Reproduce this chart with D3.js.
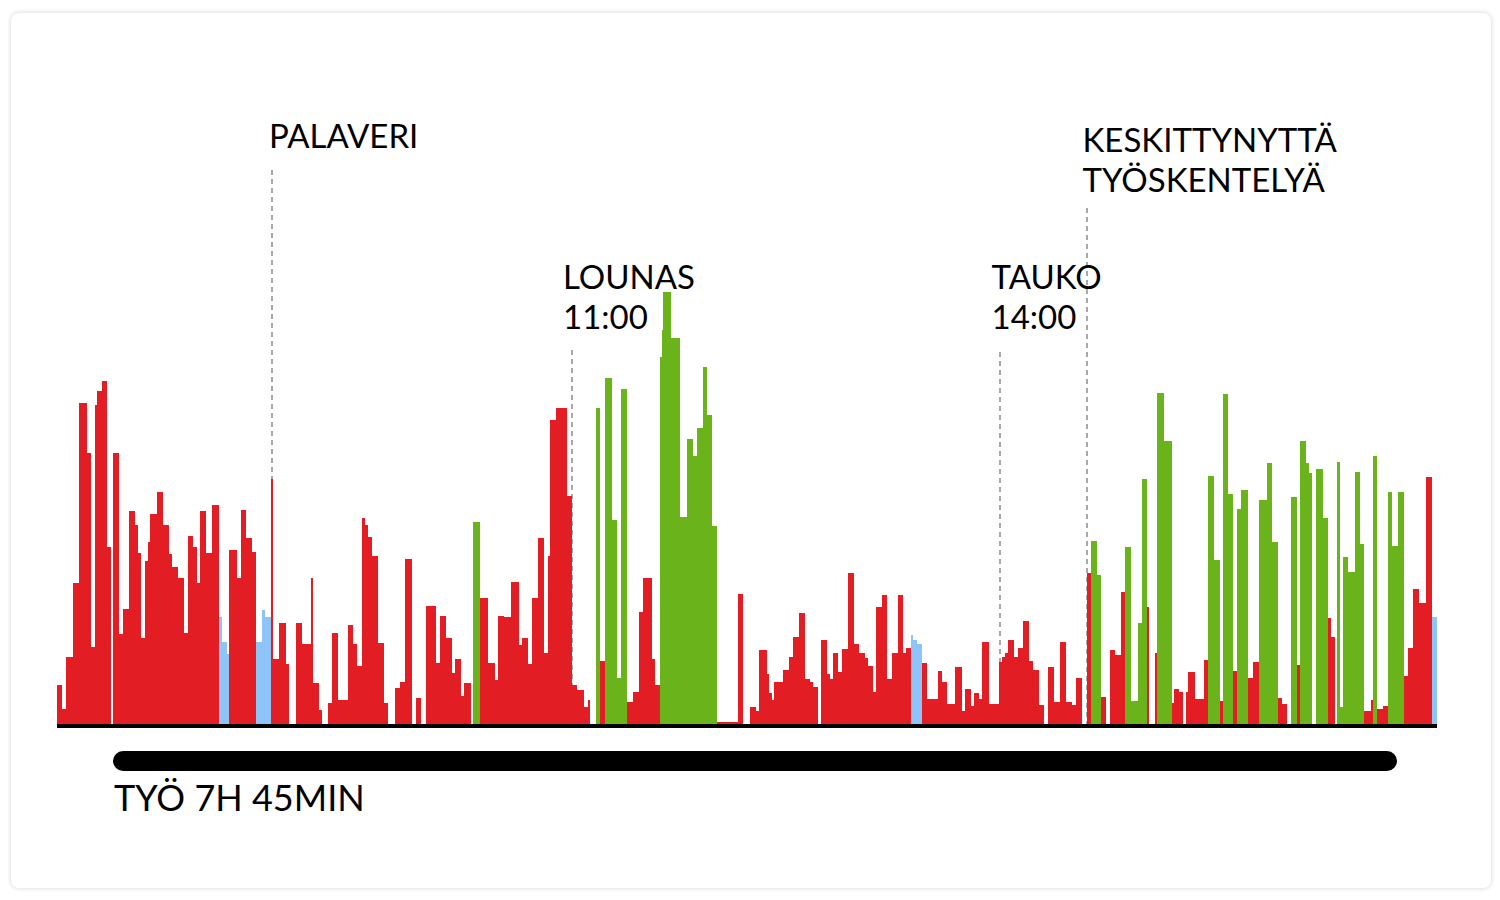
<!DOCTYPE html>
<html>
<head>
<meta charset="utf-8">
<script src="https://cdn.jsdelivr.net/npm/d3@7/dist/d3.min.js"></script>
<style>
  html, body { margin: 0; padding: 0; background: #ffffff; }
  body { width: 1500px; height: 900px; position: relative; overflow: hidden; }
  #card { position: absolute; left: 11px; top: 13px; width: 1480px; height: 875px;
          background: #fff; border-radius: 8px; box-shadow: 0 0 5px rgba(0,0,0,0.18); }
  svg { position: absolute; left: 0; top: 0; }
  text { font-family: Lato, "Open Sans", sans-serif; fill: #000; }
</style>
</head>
<body>
<div id="card"></div>
<svg id="chart" width="1500" height="900"></svg>
<script>
// ---- data: activity segments (start in sampling steps, level, kind) ----
const segStarts = [
  0,2.4,4.4,8.2,11.2,14.9,16.9,18.9,19.9,22.5,24.9,27,28.2,31.2,33.2,36,39,40.4,41.9,44,45.4,46.5,49.9,53.2,56,57.7,60.7,63.7,65.4,67.9,69.9,71.5,74.5,77.4,81,82.4,84.9,
  86.2,89.9,91.9,94.5,97.4,99.4,102.7,104,106.9,108.2,111.2,114.5,116,119.4,122.4,127,128.2,131.2,132.7,135.4,137.7,140.7,145.4,148.2,150.2,152.4,154,155.4,157.4,160.7,163.7,165.4,169,171.5,
  174,177.4,179.4,182,184.4,189.5,191.5,194.4,197.4,199,202,203.7,206.9,207.9,211.5,215.7,219,220.4,223.5,226.9,231,232.4,235.7,237.7,240.7,243.5,245.4,246.5,249.4,254.9,257.4,259.9,
  263.7,265.4,266.5,269.4,271.5,274,277.4,280.2,281.9,284.9,288.2,291.2,292.9,297.4,299,301.5,302.7,303.2,306.9,311.5,314.9,318.2,319.9,323.2,324.9,327.7,329.9,340.4,343.2,346.5,
  349.5,351,354.9,356.2,357.4,358.7,363.2,366.2,368.2,371.2,374,376.5,378.2,380.7,381.9,384.9,386.5,387.9,390.7,392.4,395.7,398.7,401.2,404,405.7,407.9,409.5,412.4,415.2,417.4,420.4,423.2,424.4,427,428.2,429.9,432.4,435.2,
  440.4,442.7,444.9,449,452.4,454,457,458.7,461.2,462.4,466.2,471,472.4,474,475.7,478.7,480.4,483.2,486.2,488.2,491,493.7,495.7,498.5,501.5,504.5,507.4,509.5,512.4,
  515.2,517,519.9,521.9,524.5,526.5,529,531.9,534,536.9,540.7,542.7,544.9,546,549,550.2,553.7,557.7,558.7,561,562.9,564.5,565.7,569,573.5,575.4,578.5,581.5,582.9,585.7,587.9,589.9,591.9,595.7,598.2,
  601.2,604.9,607.7,610.7,612.4,614.9,616.9,620.2,621.5,624.4,626.2,627.7,629.4,632.9,635.4,637,639,639.9,641.5,642.9,645.7,649,651.5,653.5,656.9,658.2,660.2,662.9,665.4,667.7,670.7,673.7,675.4,678.2,681.2,684.4,687.7
];
const segLevels = [
  19.5,7.5,33.5,70.5,160.5,135.5,38.5,159.5,166.5,171.5,88.5,0,135.5,45,57.5,106.5,99.5,85.5,43,81.5,91,105,116,99.5,85,78.5,73,45.5,94,88.5,70.5,106.5,85.5,109.5,53.5,41,35,
  87,73,107,93,86,41,57,53.5,122.5,32.5,50.5,30,0,50.5,40,73,20.5,7,0,10.5,45.5,12,49.5,40,29,103,99.5,93.5,84,40.5,10.5,0,18,21,
  82.5,0,13,0,59,30.5,54,43,25.5,32.5,14,20.5,0,101,63,30.5,22,54,53.5,71,39.5,43,30,63,93,35.5,84,152,158,114,19.5,17,
  8.5,12,0,158,31.5,173,102,23,167.5,11,16,56,73,32.5,19.5,183.5,197,216,193,103.5,142.5,134,148,178.5,154.5,99,1,65,0,8.5,
  6.5,37,25,15.5,12,21,27,33.5,43.5,55.5,22.5,21,18.5,0,42,25,22.5,35.5,26,37.5,75.5,40,35.5,33,29,16,58.5,64.5,22.5,35.5,64.5,35.5,38,44.5,42,40,30.5,12.5,
  26.5,21,10,28.5,6.5,17.5,9,15.5,12.5,41,10,31,33.5,35.5,42,33.5,38,51.5,31.5,27,9.5,0,28.5,11,41,11,9.5,23,0,
  75.5,91.5,74.5,13.5,0,37,34.5,66,88.5,11.5,50.5,122.5,58.5,0,35.5,165.5,141.5,10.5,17.5,16,0,16,26,12.5,32,124,82,11.5,165,115,26.5,107.5,117,23,31,
  112,130.5,91,13,10,0,113.5,29.5,141.5,130.5,125.5,0,127.5,103,53,43.5,0,131,8.5,83.5,76,126,90,6.5,12,134,7.5,9,116,89,116,24,38,67.5,60.5,123.5,53.5
];
// r = work, g = focused work, b = pause
const segKinds = (
  "rrrrrrrrrrrrrrrrrrrrrrrrrrrrrrrrrr" + "bbb" +
  "rrrrr" + "bbb" + "rrrrrrrrrrrrrrrrrrrrrrrrrr" +
  "rrrrrrrrrrrrr" + "g" + "rrrrrrrrrrrrrrrrrr" +
  "rrrgrggggr" + "rrrrrggggg" + "ggggggrrrr" +
  "rrrrrrrrrrrrrrrrrrrrrrrrrrrrrrrrr" + "bbb" + "rr" +
  "rrrrrrrrrrrrrrrrrrrrrrrrrrrrr" +
  "rggrrrrrgg" + "ggrrrggrrr" + "rrrrrggrgg" + "rggrr" +
  "gggrrrgrgg" + "grggrrrggg" + "gggrrgrrgg" + "grrrrrb"
).split("");
const totalSteps = 690;

// events (annotations)
const eventLabels = [["PALAVERI"], ["LOUNAS", "11:00"], ["TAUKO", "14:00"], ["KESKITTYNYTTÄ", "TYÖSKENTELYÄ"]];
const eventSteps = [107.5, 257.5, 471.5, 515];

// work span
const workSpan = [28, 670];
const workLabel = "TYÖ 7H 45MIN";

// ---- layout / style ----
const colors = { r: "#e31d24", g: "#6bb31b", b: "#8fc4f8" };
const labelBaseline = [148, 289, 289, 152];
const labelDx = [-3, -9, -8.5, -4.5];
const dashTop = [170, 350, 352, 208];

const svg = d3.select("#chart");
const x = d3.scaleLinear().domain([0, totalSteps]).range([57, 1437]);
const y = d3.scaleLinear().domain([0, 220]).range([724, 284]);

const segs = segStarts.map((s, i) => ({
  start: s,
  end: i < segStarts.length - 1 ? segStarts[i + 1] : totalSteps,
  level: segLevels[i],
  kind: segKinds[i]
}));

// dashed event lines (behind bars)
svg.append("g").selectAll("line").data(eventSteps).join("line")
  .attr("x1", d => x(d)).attr("x2", d => x(d))
  .attr("y1", (d, i) => dashTop[i]).attr("y2", y(0))
  .attr("stroke", "#a8a8a8").attr("stroke-width", 2).attr("stroke-dasharray", "5,4");

// bars
svg.append("g").attr("shape-rendering", "crispEdges")
  .selectAll("rect").data(segs.filter(d => d.level > 0)).join("rect")
  .attr("x", d => x(d.start))
  .attr("width", d => x(d.end) - x(d.start))
  .attr("y", d => y(d.level))
  .attr("height", d => y(0) - y(d.level))
  .attr("fill", d => colors[d.kind]);

// baseline axis
const axis = d3.axisBottom(x).tickValues([]).tickSizeOuter(0);
const ag = svg.append("g").attr("transform", "translate(0,726)").call(axis);
ag.select(".domain").attr("stroke", "#000").attr("stroke-width", 4).attr("d", `M${x(0)},0H${x(totalSteps)}`);

// event labels
const lg = svg.append("g");
eventLabels.forEach((lines, i) => {
  const t = lg.append("text")
    .attr("x", x(eventSteps[i]) + labelDx[i])
    .attr("y", labelBaseline[i])
    .style("font-size", "33px");
  lines.forEach((ln, j) => {
    t.append("tspan").attr("x", x(eventSteps[i]) + labelDx[i]).attr("dy", j === 0 ? 0 : 40).text(ln);
  });
});

// work duration bar
svg.append("rect")
  .attr("x", x(workSpan[0])).attr("width", x(workSpan[1]) - x(workSpan[0]))
  .attr("y", 751).attr("height", 20).attr("rx", 10).attr("fill", "#000");
svg.append("text").attr("x", x(workSpan[0]) + 1).attr("y", 811)
  .style("font-size", "36px").text(workLabel);
</script>
</body>
</html>
